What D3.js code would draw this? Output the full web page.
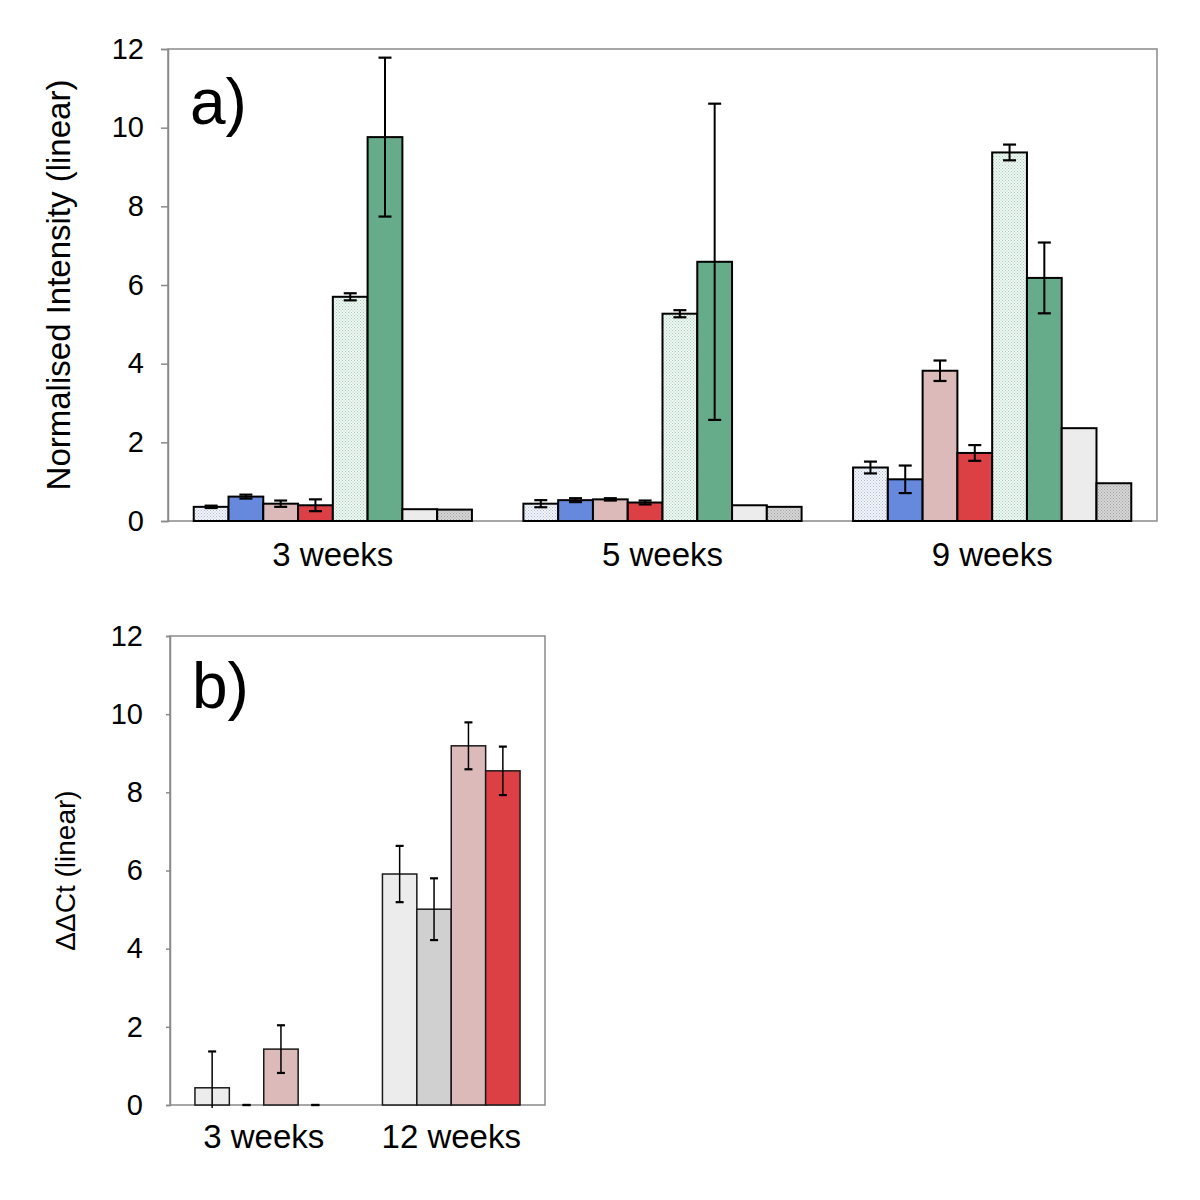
<!DOCTYPE html>
<html><head><meta charset="utf-8">
<script src="https://cdn.jsdelivr.net/npm/d3@7"></script>
<style>body{margin:0;background:#fff}svg{display:block}text{font-family:"Liberation Sans",Arial,sans-serif;fill:#000}</style>
</head><body>
<script>
// ---------- Panel a data ----------
const groupsA = ["3 weeks", "5 weeks", "9 weeks"];
const seriesA = ["s1", "s2", "s3", "s4", "s5", "s6", "s7", "s8"];
const valuesA = [
  [0.36, 0.44, 1.36],
  [0.62, 0.53, 1.06],
  [0.44, 0.55, 3.82],
  [0.40, 0.47, 1.73],
  [5.70, 5.27, 9.37],
  [9.76, 6.59, 6.18],
  [0.30, 0.40, 2.36],
  [0.29, 0.36, 0.96]
];
const errorsA = [
  [0.03, 0.09, 0.15],
  [0.05, 0.05, 0.35],
  [0.08, 0.03, 0.26],
  [0.15, 0.05, 0.20],
  [0.09, 0.09, 0.20],
  [2.02, 4.02, 0.90],
  null,
  null
];
const fillsA = ["url(#patBlue)", "#6688dd", "#dcbaba", "#dc4044", "url(#patGreen)", "#66ab8a", "#ececec", "url(#patGray)"];
const ticksA = [0, 2, 4, 6, 8, 10, 12];

// ---------- Panel b data ----------
const groupsB = ["3 weeks", "12 weeks"];
const seriesB = ["t1", "t2", "t3", "t4"];
const valuesB = [
  [0.44, 5.91],
  [0.00, 5.01],
  [1.43, 9.19],
  [0.00, 8.55]
];
const errorsB = [
  [0.93, 0.72],
  [0.00, 0.79],
  [0.61, 0.60],
  [0.00, 0.62]
];
const fillsB = ["#ececec", "#d0d0d0", "#dcbaba", "#dc4044"];
const ticksB = [0, 2, 4, 6, 8, 10, 12];

const svg = d3.select("body").append("svg").attr("width", 1200).attr("height", 1200);
const defs = svg.append("defs");
function pat(id, bg, fg) {
  const p = defs.append("pattern").attr("id", id).attr("width", 3).attr("height", 3).attr("patternUnits", "userSpaceOnUse");
  p.append("rect").attr("width", 3).attr("height", 3).attr("fill", bg);
  p.append("rect").attr("x", 0).attr("y", 0).attr("width", 1).attr("height", 1).attr("fill", fg);
  p.append("rect").attr("x", 1.5).attr("y", 1.5).attr("width", 1).attr("height", 1).attr("fill", fg);
}
pat("patBlue", "#f4f6fa", "#a9b9d6");
pat("patGreen", "#f0f7f3", "#a6cdb8");
pat("patGray", "#d6d6d6", "#a4a4a4");

function panel(cfg) {
  const g = svg.append("g");
  const x0 = d3.scaleBand().domain(cfg.groups).range([cfg.left, cfg.right]);
  const x1 = d3.scaleBand().domain(cfg.series).range([0, x0.bandwidth()]).paddingInner(0).paddingOuter(cfg.outer);
  const y = d3.scaleLinear().domain([0, 12]).range([cfg.bottom, cfg.top]);
  const clipId = "clip" + cfg.name;
  defs.append("clipPath").attr("id", clipId).append("rect")
    .attr("x", cfg.left - 5).attr("y", cfg.top - 5).attr("width", cfg.right - cfg.left + 10).attr("height", cfg.bottom - cfg.top + 8);

  // frame
  g.append("rect").attr("x", cfg.left).attr("y", cfg.top).attr("width", cfg.right - cfg.left).attr("height", cfg.bottom - cfg.top)
    .attr("fill", "none").attr("stroke", "#8a8a8a").attr("stroke-width", 1.5);

  // axis
  const ax = g.append("g").attr("transform", `translate(${cfg.left},0)`)
    .call(d3.axisLeft(y).tickValues(cfg.ticks).tickSize(cfg.tickLen).tickPadding(cfg.tickPad).tickFormat(d3.format("d")));
  ax.select(".domain").attr("stroke", "#8a8a8a").attr("stroke-width", 1.5);
  ax.selectAll(".tick line").attr("stroke", "#8a8a8a").attr("stroke-width", 1.5);
  ax.selectAll(".tick text").attr("font-size", 29).attr("font-family", "Liberation Sans, Arial, sans-serif").attr("fill", "#000");

  // bars
  cfg.series.forEach((s, si) => {
    cfg.groups.forEach((gr, gi) => {
      const v = cfg.values[si][gi];
      const bx = x0(gr) + x1(s);
      if (v > 0) {
        g.append("rect").attr("x", bx).attr("y", y(v)).attr("width", x1.bandwidth()).attr("height", y(0) - y(v))
          .attr("fill", cfg.fills[si]).attr("stroke", cfg.barStroke).attr("stroke-width", cfg.barSW);
      }
    });
  });
  // error bars
  const eg = g.append("g").attr("clip-path", `url(#${clipId})`);
  cfg.series.forEach((s, si) => {
    if (!cfg.errors[si]) return;
    cfg.groups.forEach((gr, gi) => {
      const v = cfg.values[si][gi], e = cfg.errors[si][gi];
      const cx = x0(gr) + x1(s) + x1.bandwidth() / 2;
      const hw = cfg.capW / 2;
      eg.append("line").attr("x1", cx).attr("x2", cx).attr("y1", y(v + e)).attr("y2", y(v - e))
        .attr("stroke", "#000").attr("stroke-width", cfg.errSW);
      [v + e, v - e].forEach(t => {
        eg.append("line").attr("x1", cx - hw).attr("x2", cx + hw).attr("y1", y(t)).attr("y2", y(t))
          .attr("stroke", "#000").attr("stroke-width", cfg.capSW);
      });
    });
  });
  // category labels
  cfg.groups.forEach(gr => {
    g.append("text").attr("x", x0(gr) + x0.bandwidth() / 2).attr("y", cfg.catY).attr("text-anchor", "middle")
      .attr("font-size", 33).text(gr);
  });
  // y title
  g.append("text").attr("transform", `translate(${cfg.titleX},${(cfg.top + cfg.bottom) / 2}) rotate(-90)`)
    .attr("text-anchor", "middle").attr("font-size", cfg.titleSize).text(cfg.title);
  // panel letter
  g.append("text").attr("x", cfg.left + 22).attr("y", cfg.letterY).attr("font-size", 64).text(cfg.letter);
}

panel({
  name: "A", groups: groupsA, series: seriesA, values: valuesA, errors: errorsA, fills: fillsA, ticks: ticksA,
  left: 168, right: 1157, top: 49, bottom: 521, outer: 0.74,
  tickLen: 7, tickPad: 17, barStroke: "#000", barSW: 2, errSW: 2, capSW: 2.2, capW: 13,
  catY: 566, title: "Normalised Intensity (linear)", titleX: 70, titleSize: 33, letter: "a)", letterY: 124
});
panel({
  name: "B", groups: groupsB, series: seriesB, values: valuesB, errors: errorsB, fills: fillsB, ticks: ticksB,
  left: 170, right: 545, top: 636, bottom: 1105, outer: 0.725,
  tickLen: 4, tickPad: 23, barStroke: "#1a1a1a", barSW: 1.5, errSW: 1.5, capSW: 2.2, capW: 8,
  catY: 1148, title: "ΔΔCt (linear)", titleX: 75, titleSize: 28, letter: "b)", letterY: 708
});
</script>
</body></html>
